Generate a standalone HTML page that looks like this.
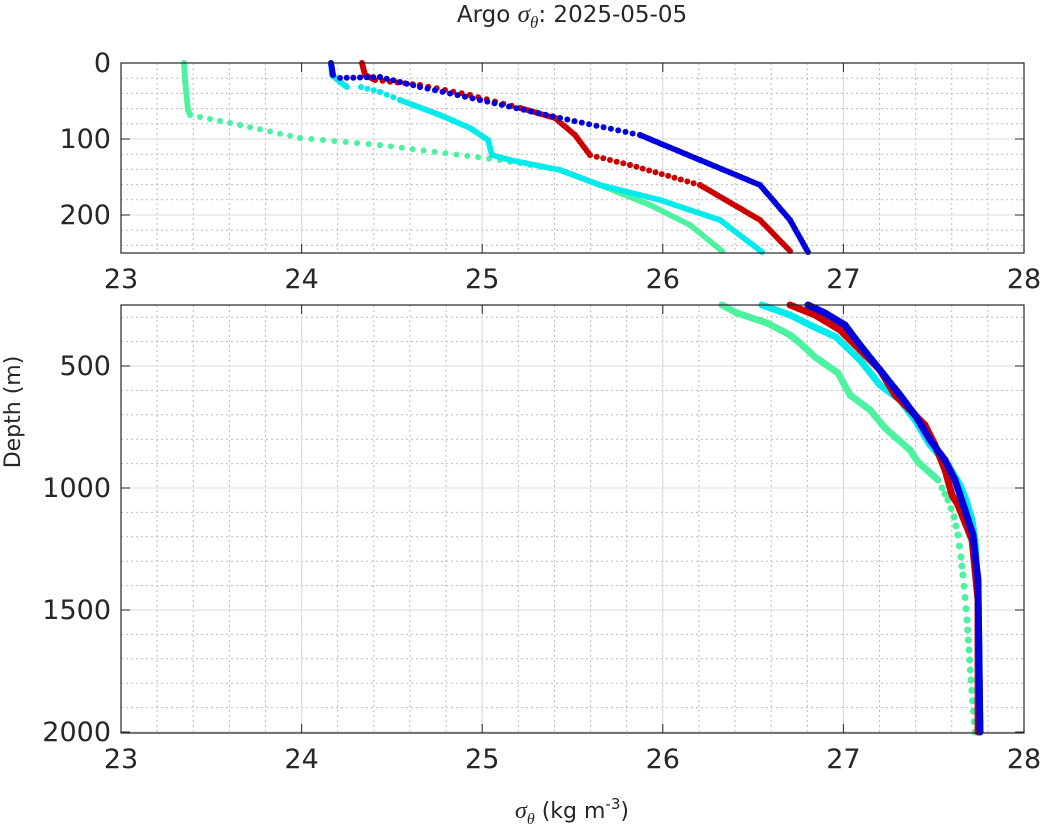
<!DOCTYPE html><html><head><style>body{margin:0;background:#fff}svg{display:block}text{font-family:"DejaVu Sans","Liberation Sans",sans-serif;fill:#262626}</style></head><body>
<svg id="s" width="1044" height="835" xmlns="http://www.w3.org/2000/svg">
<text x="572" y="22" font-size="23" text-anchor="middle">Argo <tspan font-family="Liberation Serif" font-style="italic" font-size="25">σ</tspan><tspan font-family="Liberation Serif" font-style="italic" font-size="17" dy="6">θ</tspan><tspan dy="-6">: 2025-05-05</tspan></text>
<text x="572" y="818" font-size="22" text-anchor="middle"><tspan font-family="Liberation Serif" font-style="italic" font-size="24">σ</tspan><tspan font-family="Liberation Serif" font-style="italic" font-size="16" dy="6">θ</tspan><tspan dy="-6"> (kg m</tspan><tspan font-size="15" dy="-9">-3</tspan><tspan dy="9">)</tspan></text>
<text transform="translate(20,412) rotate(-90)" font-size="22" text-anchor="middle">Depth (m)</text>
<g id="g"></g>
</svg>
<script>
const g=document.getElementById('g');let h='';
const L=121,R=1024,px=v=>L+(v-23)*180.6;
function axes(T,B,minY,labels){
 for(let v=23;v<=28.001;v+=0.2){const x=px(v);h+=`<line x1="${x}" x2="${x}" y1="${T}" y2="${B}" stroke="#bbb" stroke-width="1" stroke-dasharray="2,3"/>`;}
 minY.forEach(y=>h+=`<line x1="${L}" x2="${R}" y1="${y}" y2="${y}" stroke="#bbb" stroke-width="1" stroke-dasharray="2,3"/>`);
 for(let v=24;v<28;v++){const x=px(v);h+=`<line x1="${x}" x2="${x}" y1="${T}" y2="${B}" stroke="#ddd"/>`;}
 labels.forEach(([y,t])=>{h+=`<line x1="${L}" x2="${R}" y1="${y}" y2="${y}" stroke="#ddd"/><text x="${L-10}" y="${y+9}" font-size="27" text-anchor="end">${t}</text><line x1="${L}" x2="${L+9}" y1="${y}" y2="${y}" stroke="#262626"/><line x1="${R}" x2="${R-9}" y1="${y}" y2="${y}" stroke="#262626"/>`;});
 for(let v=23;v<=28;v++){const x=px(v);h+=`<text x="${x}" y="${B+35}" font-size="27" text-anchor="middle">${v}</text><line x1="${x}" x2="${x}" y1="${B}" y2="${B-9}" stroke="#262626"/><line x1="${x}" x2="${x}" y1="${T}" y2="${T+9}" stroke="#262626"/>`;}
}
let m1=[];for(let d=20;d<250;d+=20)m1.push(63+d*0.76);
axes(63,253,m1,[[63,0],[139,100],[215,200]]);
let m2=[];for(let d=300;d<2000;d+=100)m2.push(366+(d-500)*0.244);
axes(305,733,m2,[[366,500],[488,1000],[610,1500],[732,2000]]);
function curve(pts,c,step,r){r=r||3;for(let i=0;i<pts.length-1;i++){const[a,b]=pts[i],[e,f]=pts[i+1];const n=Math.max(1,Math.ceil(Math.hypot(e-a,f-b)/step));for(let k=0;k<=n;k++){const t=k/n;h+=`<circle cx="${(a+(e-a)*t).toFixed(1)}" cy="${(b+(f-b)*t).toFixed(1)}" r="${r}" fill="${c}"/>`;}}}
const G='#4df2a0',C='#00ecec',Rd='#cc0000',B='#0000dd';
curve([[184,63],[185,80],[188,110],[190,115]],G,2);
curve([[190,115],[240,125],[300,138],[380,145],[500,160],[560,170]],G,12);
curve([[560,170],[600,185],[650,205],[690,225],[722,251]],G,3);
curve([[331,63],[332,75],[340,82],[347,87]],C,2);
curve([[361,87],[380,92],[400,100]],C,9);
curve([[400,100],[440,115],[470,128],[488,140],[492,155],[510,160],[560,170],[600,185],[660,200],[720,220],[762,252]],C,3);
curve([[362,63],[365,75],[375,80]],Rd,2);
curve([[375,80],[420,85],[470,95],[520,108]],Rd,9);
curve([[520,108],[555,118],[575,135],[590,155]],Rd,3);
curve([[590,155],[630,165],[700,185]],Rd,7);
curve([[700,185],[760,220],[790,251]],Rd,3);
curve([[331,63],[333,75]],B,2);
curve([[340,78],[380,77],[420,87],[480,100],[560,118],[640,135]],B,8);
curve([[640,135],[700,160],[760,185],[790,220],[808,252]],B,3);
curve([[722,305],[737,313],[767,323],[790,335],[800,343],[815,357],[838,373],[850,395],[870,410],[885,428],[910,450],[918,462],[938,480]],G,2,3.5);
curve([[942,488],[948,500],[954,517],[958,535],[961,557],[963,575],[967,620],[971,680],[975,732]],G,12,3.5);
curve([[762,305],[790,315],[810,325],[836,337],[860,360],[880,385],[900,400],[915,420],[930,445],[948,465],[960,485],[966,500],[972,520],[975,540],[978,600],[980,732]],C,2,3.5);
curve([[790,305],[815,315],[840,330],[855,345],[880,370],[895,395],[905,405],[925,425],[935,445],[945,470],[952,495],[958,505],[960,510],[972,540],[978,600],[978,732]],Rd,2,3.5);
curve([[808,305],[825,313],[845,325],[860,345],[880,370],[900,395],[915,415],[930,440],[945,460],[955,480],[965,510],[973,535],[978,580],[980,732]],B,2,3.5);
h+=`<rect x="${L}" y="63" width="${R-L}" height="190" fill="none" stroke="#262626" stroke-width="1.2"/><rect x="${L}" y="305" width="${R-L}" height="428" fill="none" stroke="#262626" stroke-width="1.2"/>`;
g.innerHTML=h;
</script></body></html>
